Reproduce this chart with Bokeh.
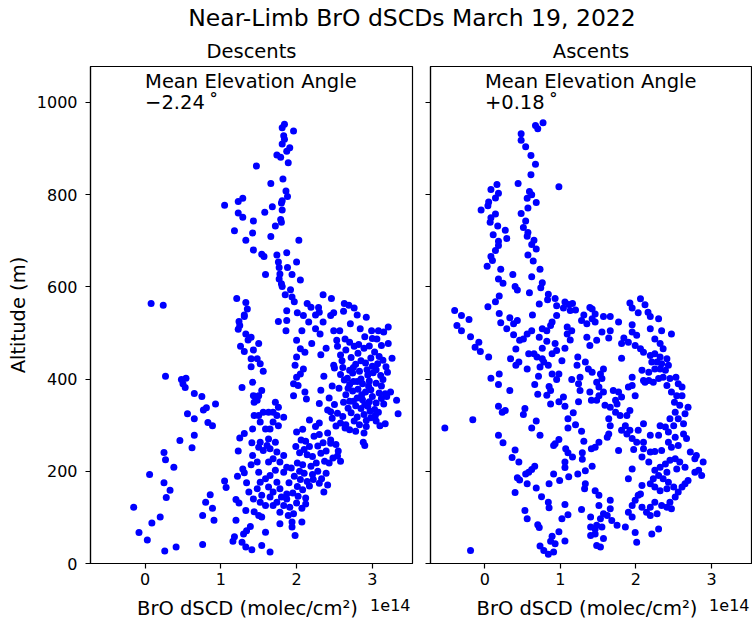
from bokeh.plotting import figure
from bokeh.layouts import column, row
from bokeh.models import Div, Label, CustomJSTickFormatter, Range1d
from bokeh.embed import file_html
from bokeh.resources import INLINE

FONT = "DejaVu Sans"

# ---------------- data (BrO dSCD in units of 1e14 molec/cm^2, altitude in m) ----------------
desc_left = [(0.08,564),(0.24,560),(0.27,406),(0.48,399),(0.54,402),(0.50,390),(0.53,382),(0.65,369),(0.75,362),
             (0.93,346),(0.81,338),(0.77,333),(0.56,325),(0.65,314),(0.83,306),(0.89,299),(0.65,278),(0.46,267),
             (0.62,251),(0.25,241),(0.27,225),(0.38,209),(0.06,193),(0.25,175),(0.33,159),(0.28,143),(-0.15,122),
             (0.20,101),(0.09,88),(-0.08,67),(0.03,51),(0.26,27),(0.41,36),(0.76,41),(0.86,149),(0.80,133),
             (0.89,120),(0.76,104),(0.91,94)]

desc_column = [(1.05,179),(1.07,165),(1.22,189),(1.20,139),(1.24,131),(1.33,115),(1.20,94),(1.18,58),(1.16,48),
               (1.28,46),(1.33,36),(1.30,64),(1.34,71),(1.39,80),(1.41,30),(1.23,244),(1.25,272),(1.31,282),
               (1.29,205),(1.31,197),(1.34,175),(1.37,155),(1.28,382),(1.26,471),(1.31,460),(1.23,508),(1.25,516),
               (1.24,525),(1.31,536),(1.33,498),(1.36,485),(1.40,491),(1.43,463),(1.40,444),(1.40,427),(1.42,393),
               (1.42,292),(1.41,262),(1.42,234),(1.40,214),(1.43,364),(1.44,350),(1.44,321),(1.43,140),(1.44,112)]

desc_upper = [(1.05,777),(1.23,785),(1.29,792),(1.23,760),(1.29,751),(1.43,743),(1.18,722),(1.42,717),(1.33,701),
              (1.43,680),(1.47,862),(1.21,575),(1.33,566),(1.35,552),(1.31,539),(1.84,953),(1.81,945),(1.96,938),
              (1.83,928),(1.84,920),(1.81,910),(1.91,902),(1.87,894),(1.74,886),(1.79,881),(1.89,869),(1.82,834),
              (1.66,824),(1.86,808),(1.88,796),(1.81,787),(1.80,782),(1.68,774),(1.58,762),(1.81,767),(1.79,746),
              (1.80,740),(1.72,732),(1.66,709),(2.03,701),(1.54,671),(1.57,666),(1.74,669),(1.87,674),(1.76,654),
              (1.77,642),(2.00,654),(1.88,642),(1.59,627),(1.78,628),(1.94,627),(1.77,617),(1.80,607),(2.05,615),
              (1.81,601),(1.92,594),(1.85,583),(1.94,578),(2.35,583),(2.46,575),(1.97,568),(2.14,564),(2.19,556),
              (2.29,555),(2.63,564),(2.69,560),(2.76,554),(2.62,547),(2.80,539),(2.92,534),(1.87,548),(2.01,544),
              (2.09,538),(2.25,539),(2.30,545),(2.49,544),(2.45,538)]

desc_mid = [(1.76,525),(1.87,527),(1.86,505),(2.07,505),(2.16,524),(2.25,509),(2.31,498),(2.35,524),(2.49,505),
            (2.57,505),(2.53,484),(2.64,487),(2.71,520),(2.84,509),(2.99,505),(3.08,505),(3.15,502),(3.21,513),
            (3.06,487),(3.12,473),(3.21,477),(3.26,445),(3.20,415),(3.24,372),(3.17,368),(3.32,354),(3.34,325),
            (3.15,346),(3.17,303),(3.10,299),(3.04,321),(3.08,328),(2.90,256),(2.88,263)]

desc_strip = [(1.50,477),(1.48,444),(1.52,433),(1.56,417),(1.54,375),(1.50,364),(1.48,354),(1.56,328),(1.50,321),
              (1.63,328),(1.52,307),(1.59,292),(1.52,263),(1.50,252),(1.56,245),(1.61,256),(1.48,220),(1.50,198),
              (1.59,184),(1.52,176),(1.48,162),(1.54,148),(1.52,133),(1.59,126),(1.50,104),(1.54,101),(1.59,68),
              (1.54,39),(1.65,25),(1.72,350),(1.76,339),(1.69,328),(1.74,321),(1.83,317),(1.69,307),(1.76,299),
              (1.65,292),(1.63,270),(1.72,263),(1.65,249),(1.74,242),(1.83,234),(1.69,227),(1.63,220),(1.78,220),
              (1.87,209),(1.72,202),(1.83,198),(1.65,191),(1.74,176),(1.63,166),(1.78,162),(1.69,155),(1.65,144),
              (1.80,144),(1.87,151),(1.74,133),(1.69,126),(1.83,126),(1.78,111),(1.89,104),(1.96,108),(1.78,86),
              (1.94,79),(1.98,61),(2.07,90),(2.00,484),(2.05,466),(2.11,458),(2.00,448),(1.98,430),(2.05,411),
              (2.00,404),(1.96,390),(2.02,386),(1.96,364),(2.11,372),(2.13,357),(2.09,422),(2.20,477)]

desc_band = [(2.00,285),(2.08,291),(2.17,311),(2.25,297),(2.30,305),(2.06,268),(2.12,265),(2.23,276),(2.30,280),
             (2.41,283),(2.45,268),(2.52,258),(1.99,254),(2.10,247),(2.17,254),(2.28,255),(2.35,262),(2.45,261),
             (2.55,244),(2.58,222),(2.04,240),(2.14,236),(2.21,232),(2.32,239),(2.39,244),(2.48,229),(2.01,218),
             (2.08,214),(2.19,211),(2.26,218),(2.37,222),(2.43,218),(2.54,233),(1.93,207),(2.04,200),(2.10,196),
             (2.21,193),(2.28,200),(2.39,196),(2.33,184),(1.97,189),(2.05,182),(2.14,178),(2.22,182),(2.30,174),
             (2.41,170),(2.36,155),(1.90,175),(2.01,167),(2.08,160),(2.17,168),(1.95,153),(2.02,146),(2.12,142),
             (1.87,140),(2.00,131),(1.91,122),(2.07,120),(2.12,129),(1.94,90)]

desc_cluster = [(2.49,430),(2.58,452),(2.65,463),(2.76,471),(2.81,456),(2.89,467),(2.96,472),(3.03,459),(3.09,449),
                (3.14,441),(2.98,446),(2.85,440),(2.72,447),(2.61,425),(2.70,419),(2.78,432),(2.91,435),(3.00,428),
                (3.07,433),(3.18,427),(2.67,402),(2.74,413),(2.83,417),(2.94,409),(3.01,414),(3.11,408),(2.47,385),
                (2.56,380),(2.63,398),(2.70,388),(2.80,395),(2.87,390),(2.96,396),(3.05,391),(3.14,399),(2.65,366),
                (2.74,374),(2.81,378),(2.91,372),(2.98,377),(3.09,370),(3.19,362),(2.70,352),(2.80,359),(2.87,355),
                (2.96,351),(3.05,348),(2.68,337),(2.78,342),(2.85,336),(2.94,341),(3.03,334),(2.45,329),(2.54,326),
                (2.61,319),(2.72,327),(2.80,318),(2.89,323),(2.98,316),(2.50,345),(2.41,333),(2.47,315),(2.58,305),
                (2.65,301),(2.76,309),(2.83,301),(2.92,297),(3.05,309),(2.78,287),(2.70,290),(2.89,283),(2.64,294),
                (2.52,298),(2.43,359),(2.30,347),(2.32,376),(2.36,406),(2.50,424),(2.39,467),(2.32,453),(2.54,471),
                (2.60,440),(2.75,425),(2.93,420),(3.05,420),(2.85,400),(2.95,385),(3.00,362),(2.90,345),(2.75,352),
                (2.62,350),(2.68,380),(2.86,366),(3.12,385),(3.12,358),(2.92,310),(2.97,330),(2.58,410),(2.75,395),
                (2.82,475),(3.00,488),(2.90,492),(2.70,480)]

asc_upper = [(0.67,950),(0.77,956),(0.70,943),(0.48,932),(0.48,918),(0.54,904),(0.61,885),(0.67,866),(0.61,843),
             (0.44,824),(0.98,817),(0.16,822),(0.08,811),(0.18,803),(0.14,793),(0.59,807),(0.62,800),(0.56,792),
             (0.05,784),(0.04,776),(-0.05,767),(0.68,783),(0.57,771),(0.14,758),(0.08,750),(0.07,740),(0.48,759),
             (0.54,743),(0.17,732),(0.51,729),(0.57,718),(0.27,723),(0.29,705),(0.11,713),(0.56,710),(0.18,699),
             (0.65,701),(0.18,690),(0.62,692),(0.14,679),(0.68,682),(0.08,666),(0.10,657),(0.57,669),(0.64,656),
             (0.03,645),(0.21,638),(0.73,638),(0.37,627),(0.62,622),(0.18,617),(0.24,608),(0.40,601),(0.43,593),
             (0.76,609),(0.74,598),(0.59,587),(0.19,580),(0.84,584),(0.93,575),(0.14,568),(0.04,557),(0.83,572),
             (0.72,563),(1.06,567),(0.95,559),(1.11,562),(1.16,564),(1.04,554),(1.20,550),(1.13,549),(1.31,539),
             (1.39,555),(-0.40,549),(-0.31,538),(-0.21,529),(0.19,542),(0.33,533),(0.63,539),(0.95,538),(1.42,531)]

asc_upper_right = [(1.42,552),(1.46,541),(1.57,536),(1.66,536),(1.92,565),(2.06,574),(2.12,561),(1.95,554),
                   (2.03,544),(2.16,545),(2.19,536),(2.30,531)]

asc_mid_left = [(-0.37,516),(-0.31,505),(-0.19,492),(-0.08,480),(-0.13,469),(-0.06,460),(0.05,448),(0.21,522),
                (0.38,520),(0.43,527),(0.29,509),(0.38,496),(0.46,484),(0.51,487),(0.56,498),(0.62,505),(0.76,509),
                (0.82,505),(0.87,516),(0.89,524),(1.09,513),(1.15,505),(1.28,527),(1.35,520),(1.09,498),(1.13,485),
                (1.35,491),(1.39,473),(0.72,491),(0.82,482),(0.93,477),(0.41,465),(1.06,467),(0.76,467),(0.89,455),
                (0.95,462),(0.58,455),(0.65,455),(0.69,448),(0.76,444),(0.84,430),(0.73,426),(0.34,444),(0.41,430),
                (0.45,437),(0.56,422),(0.78,437),(1.02,440),(1.23,448),(1.22,430),(1.33,437),(1.37,422),(1.42,415),
                (0.08,402),(0.19,411),(0.18,388),(0.33,375),(0.71,406),(0.89,411),(0.95,399),(0.98,411),(1.15,399),
                (1.26,404),(1.24,390),(1.26,375),(0.66,388),(0.70,367),(0.82,365),(0.85,384),(0.87,375),(0.87,346),
                (0.98,351),(1.04,361),(1.39,372),(1.41,354),(1.24,351),(1.06,341),(1.17,327),(1.10,314),(0.18,341),
                (0.23,328),(0.27,332),(0.53,336),(0.51,323),(-0.16,312),(-0.53,294),(0.68,309),(0.62,294),(0.73,278),
                (1.20,301),(1.10,294),(1.28,287),(0.18,278),(0.24,262),(1.31,265),(1.41,249),(0.93,260),(0.98,269),
                (0.91,256),(1.07,249),(1.10,240),(1.29,240),(1.16,231),(1.29,226),(1.06,220),(1.06,208),(0.40,246),
                (0.36,230),(0.45,220),(0.66,211),(0.62,204),(0.58,198),(0.54,194),(0.43,186),(0.46,181),(0.56,173),
                (0.40,154),(0.91,194),(0.99,180),(1.11,188),(1.23,194),(1.33,201),(1.42,211),(0.85,173),(0.68,164),
                (0.75,145),(1.33,173),(1.32,162),(0.84,133),(0.85,121),(1.06,128),(1.10,106),(1.02,97),(1.28,117),
                (1.40,101),(0.53,115),(0.56,97),(0.70,84),(0.72,78),(0.98,69),(0.89,59),(1.06,49),(0.93,43),
                (0.87,48),(0.73,38),(0.78,28),(0.84,20),(0.91,25),(-0.19,28),(1.40,79),(1.40,61)]

asc_right = [(1.46,524),(1.77,524),(1.95,518),(1.55,502),(1.66,505),(1.48,484),(1.64,489),(1.84,489),(1.95,502),
             (2.01,495),(2.19,509),(2.25,487),(2.34,505),(2.47,498),(1.81,477),(1.90,480),(1.99,473),(2.06,466),
             (2.10,458),(2.32,477),(2.36,466),(2.19,451),(2.25,455),(2.32,448),(2.21,437),(2.28,437),(2.34,433),
             (2.41,444),(2.43,430),(1.81,445),(2.08,419),(2.17,415),(2.25,422),(2.32,422),(2.39,419),(2.36,404),
             (2.30,401),(2.23,393),(2.17,397),(2.12,393),(2.41,386),(2.45,401),(2.53,404),(2.56,390),(2.61,383),
             (2.47,372),(2.54,364),(2.61,364),(2.51,350),(2.58,343),(2.69,339),(2.65,325),(2.52,328),(2.45,314),
             (2.56,314),(2.63,303),(2.50,299),(2.39,296),(2.32,299),(2.43,285),(2.63,281),(2.67,271),(2.52,274),
             (2.43,263),(2.56,256),(2.47,252),(2.72,242),(2.78,227),(2.89,220),(2.80,234),(2.83,202),(2.87,191),
             (2.78,198),(2.65,209),(2.54,205),(2.58,220),(2.52,227),(2.45,224),(2.39,216),(2.32,209),(2.25,202),
             (2.41,198),(2.30,191),(2.36,184),(2.43,176),(2.23,184),(2.19,173),(2.25,166),(2.32,158),(2.41,162),
             (2.50,166),(2.56,155),(2.61,166),(2.69,180),(2.65,173),(2.52,144),(2.45,133),(2.41,122),(2.47,119),
             (2.34,126),(2.25,133),(2.19,122),(2.14,111),(2.08,122),(2.03,148),(2.08,169),(2.06,151),(1.99,137),
             (1.95,126),(1.90,111),(1.95,101),(1.86,79),(1.75,83),(1.68,93),(1.62,104),(1.66,119),(1.57,108),
             (1.53,97),(1.48,83),(1.55,79),(1.46,75),(1.46,64),(1.57,54),(1.48,39),(1.53,36),(1.99,67),(2.01,46),
             (2.21,64),(2.30,75),(2.19,104),(2.28,108),(1.90,184),(1.95,205),(1.77,245),(1.97,247),(2.10,249),
             (2.19,242),(2.25,243),(2.34,245),(2.08,231),(2.17,220),(2.10,263),(2.01,263),(1.95,271),(1.88,281),
             (1.81,289),(1.92,289),(2.03,289),(2.19,278),(2.30,278),(2.10,303),(1.86,299),(1.88,321),(1.92,332),
             (1.79,321),(1.73,328),(1.64,314),(1.66,299),(1.64,281),(1.62,274),(1.51,263),(1.46,252),(1.46,158),
             (1.51,148),(1.66,137),(1.51,126),(1.57,422),(1.53,411),(1.55,401),(1.48,393),(1.51,383),(1.57,372),
             (1.51,364),(1.48,354),(1.59,343),(1.66,339),(1.73,354),(1.77,372),(1.81,361),(1.70,375),(1.75,346),
             (1.95,404),(1.90,383),(1.99,364),(2.10,397),(1.95,386)]

panel_titles = ["Descents", "Ascents"]
mean_angles = ["\u22122.24\u2009\u02da", "+0.18\u2009\u02da"]
x_ticks = [0, 1, 2, 3]
y_ticks = [0, 200, 400, 600, 800, 1000]
suptitle = "Near-Limb BrO dSCDs March 19, 2022"
x_label = "BrO dSCD (molec/cm\u00b2)"
x_offset_text = "1e14"
y_label = "Altitude (m)"

X_RANGE = (-0.72, 3.53)
Y_RANGE = (0, 1078)

# layout geometry (pixels)
TOP = 33
FRAME_H = 497
LEFT_W, RIGHT_W = 322, 321
LEFT_BORDER, GAP1, GAP2, RIGHT_PAD = 90, 5, 13, 1
BOTTOM = 33
STRIP_H = 27


def make_panel(title, groups, angle, left):
    pts = [pt for g in groups for pt in g]
    xs = [pt[0] for pt in pts]
    ys = [pt[1] for pt in pts]
    p = figure(frame_width=LEFT_W if left else RIGHT_W, frame_height=FRAME_H,
               x_range=Range1d(*X_RANGE), y_range=Range1d(*Y_RANGE),
               output_backend="svg", toolbar_location=None, title=title,
               min_border_left=LEFT_BORDER if left else GAP2,
               min_border_right=GAP1 if left else RIGHT_PAD,
               min_border_top=TOP, min_border_bottom=BOTTOM,
               background_fill_color="white", border_fill_color="white")
    p.scatter(xs, ys, size=7, fill_color="#0000ff", line_color=None)

    p.title.text_font = FONT
    p.title.text_font_size = "19.5px"
    p.title.text_font_style = "normal"
    p.title.align = "center"
    p.title.text_color = "black"
    p.title.standoff = 8

    p.grid.visible = False
    p.outline_line_color = "black"
    p.outline_line_width = 1.2
    for ax in (p.xaxis[0], p.yaxis[0]):
        ax.axis_line_color = "black"
        ax.axis_line_width = 1.2
        ax.major_tick_line_color = "black"
        ax.major_tick_line_width = 1.2
        ax.major_tick_in = 0
        ax.major_tick_out = 5
        ax.minor_tick_line_color = None
        ax.major_label_text_font = FONT
        ax.major_label_text_font_size = "16px"
        ax.major_label_text_color = "black"
        ax.axis_label_text_font = FONT
        ax.axis_label_text_font_size = "19.5px"
        ax.axis_label_text_font_style = "normal"
        ax.axis_label_text_color = "black"
    p.xaxis.ticker = x_ticks
    p.yaxis.ticker = y_ticks
    p.xaxis.major_label_standoff = 4
    if left:
        p.yaxis.axis_label = y_label
        p.yaxis.major_label_standoff = 8
        p.yaxis.axis_label_standoff = 4
    else:
        p.yaxis.formatter = CustomJSTickFormatter(code="return ''")
        p.yaxis.major_label_standoff = 0

    p.add_layout(Label(x=0, y=1045, text="Mean Elevation Angle", text_font=FONT,
                       text_font_size="19.5px", text_color="black",
                       text_align="left", text_baseline="alphabetic"))
    p.add_layout(Label(x=0, y=999, text=angle, text_font=FONT,
                       text_font_size="19.5px", text_color="black",
                       text_align="left", text_baseline="alphabetic"))
    return p


p1 = make_panel(panel_titles[0],
                [desc_left, desc_column, desc_upper, desc_mid, desc_strip, desc_band, desc_cluster],
                mean_angles[0], True)
p2 = make_panel(panel_titles[1],
                [asc_upper, asc_upper_right, asc_mid_left, asc_right],
                mean_angles[1], False)

# strip below the panels carrying the x-axis titles and the 1e14 offset texts
total_w = LEFT_BORDER + LEFT_W + GAP1 + GAP2 + RIGHT_W + RIGHT_PAD
strip = figure(frame_width=total_w, frame_height=STRIP_H, x_range=Range1d(0, total_w),
               y_range=Range1d(0, STRIP_H), output_backend="svg", toolbar_location=None,
               min_border=0, x_axis_location=None, y_axis_location=None,
               outline_line_color=None, background_fill_color="white", border_fill_color="white")
strip.grid.visible = False
left_frame = (LEFT_BORDER, LEFT_BORDER + LEFT_W)
right_x0 = LEFT_BORDER + LEFT_W + GAP1 + GAP2
right_frame = (right_x0, right_x0 + RIGHT_W)
for fx0, fx1 in (left_frame, right_frame):
    strip.add_layout(Label(x=(fx0 + fx1) / 2 - 4, y=15, text=x_label, text_font=FONT,
                           text_font_size="19.5px", text_color="black",
                           text_align="center", text_baseline="middle"))
    strip.add_layout(Label(x=fx1 - 2, y=19, text=x_offset_text, text_font=FONT,
                           text_font_size="16px", text_color="black",
                           text_align="right", text_baseline="middle"))

head = Div(text=('<div style="margin-left:72px;width:680px;text-align:center;padding-top:8px;'
                 'font-family:\'DejaVu Sans\';font-size:23.5px;line-height:20px;color:black;">'
                 + suptitle + '</div>'),
           width=total_w, height=TOP, margin=(0, 0, 0, 0))

layout = column(head, row(p1, p2), strip)
open("out.html", "w").write(file_html(layout, INLINE))
